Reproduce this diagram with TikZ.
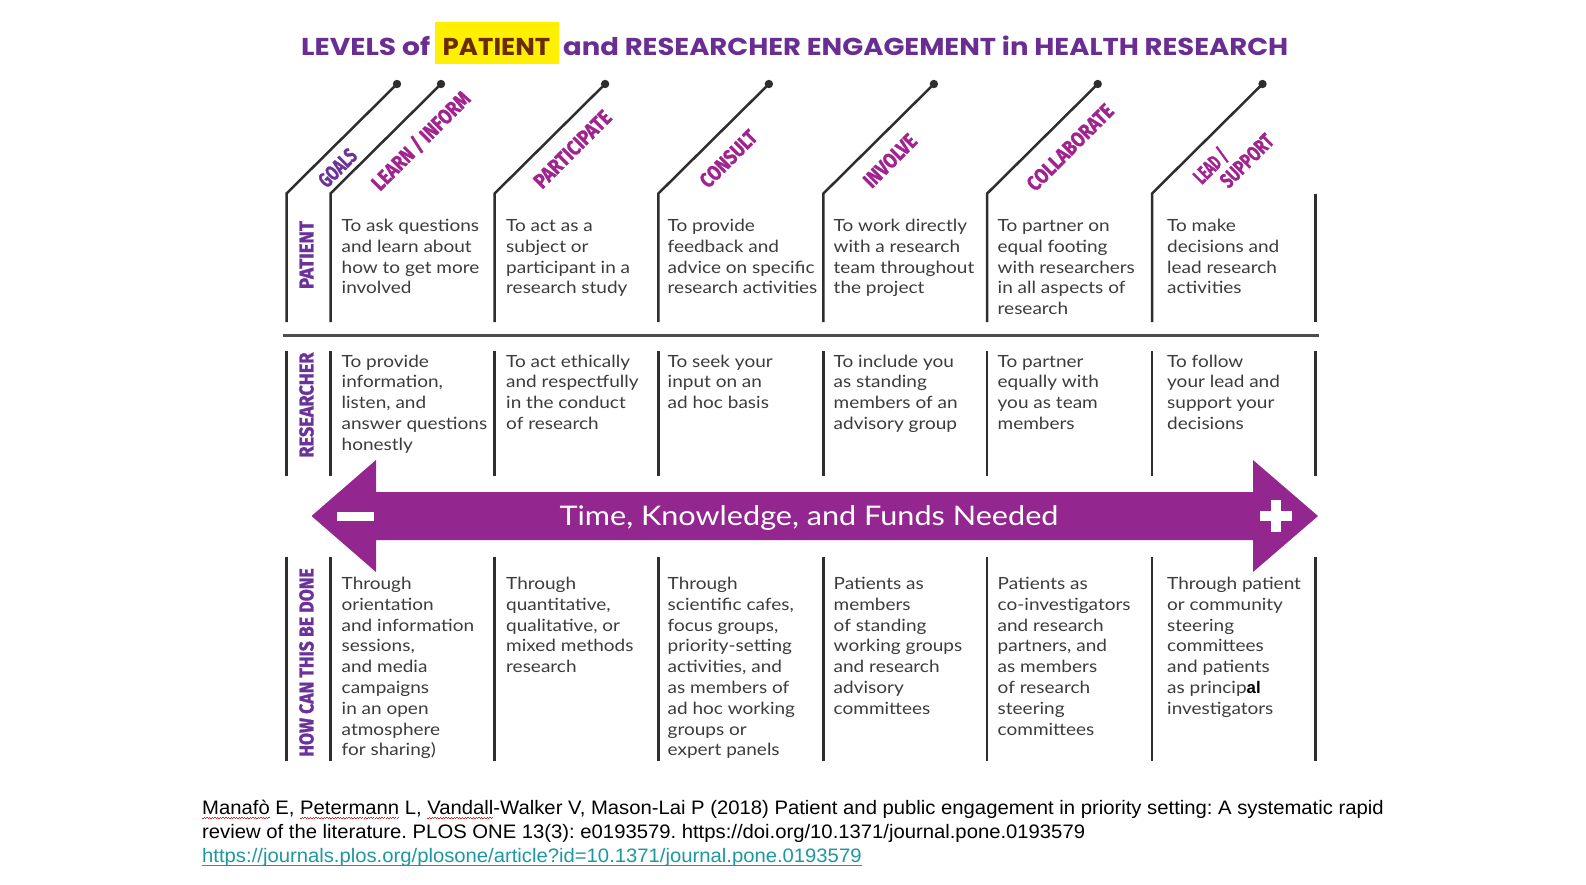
\documentclass[tikz,border=0pt]{standalone}
\usepackage{fontspec}
\usepackage{graphicx}
\setmainfont{Lato}[FakeStretch=1.13]
\newfontfamily\titlef{Poppins}
\newfontfamily\condf{Fira Sans}[BoldFeatures={FakeBold=1.4}]
\newfontfamily\arialf{Liberation Sans}
\frenchspacing
\definecolor{ttl}{HTML}{6A2D91}
\definecolor{vio}{HTML}{6B3399}
\definecolor{mag}{HTML}{A0238F}
\definecolor{arr}{HTML}{93278F}
\definecolor{txt}{HTML}{3C3C3C}
\definecolor{hl}{HTML}{FFF000}
\definecolor{hltxt}{HTML}{6A2B05}
\definecolor{lnk}{HTML}{1E98A0}
\definecolor{ln}{HTML}{2E2E2E}
\definecolor{sq}{HTML}{E02020}
\newcommand\cel[1]{\begin{tabular}[t]{@{}l@{}}#1\end{tabular}}
\newcommand\fitw[2]{\resizebox{#1}{\height}{#2}}
\newcommand\redwave[1]{\setbox0\hbox{#1}\rlap{\color{sq}\hbox to \wd0{\xleaders\hbox{\rule[-4.6pt]{1.3pt}{1pt}\rule[-3.6pt]{1.3pt}{1pt}}\hfil}}\box0\relax}
\newcommand\ulinkf[1]{\setbox0\hbox{#1}\rlap{\rule[-3.4pt]{\wd0}{1.3pt}}\box0\relax}
\tikzset{
  vline/.style={draw=ln, line width=2.5pt, line join=miter},
  hline/.style={draw=ln!85, line width=3pt},
  cell/.style={anchor=base west, inner sep=0pt, text=txt, font=\fontsize{16.8}{20.8}\selectfont},
  rowlab/.style={rotate=90, inner sep=0pt, text=vio, font=\condf\bfseries\fontsize{20}{20}\selectfont},
  collab/.style={rotate=45, inner sep=0pt, text=mag, font=\condf\bfseries\fontsize{21}{21}\selectfont},
  ttlseg/.style={anchor=base west, inner sep=0pt, text=ttl, font=\titlef\bfseries\fontsize{24.4}{26}\selectfont},
}
\begin{document}
\begin{tikzpicture}[x=1pt,y=-1pt]
\fill[white] (0,0) rectangle (1586,884);
\useasboundingbox (0,0) rectangle (1586,884);

% title
\fill[hl] (435,22) rectangle (559,64);
\node[ttlseg] (t1) at (301,55.5) {\fitw{129pt}{LEVELS of}};
\node[ttlseg, text=hltxt] (t2) at (442.5,55.5) {\fitw{107.5pt}{PATIENT}};
\node[ttlseg] (t3) at (563,55.5) {\fitw{725pt}{and RESEARCHER ENGAGEMENT in HEALTH RESEARCH}};

% column lines with diagonals
\foreach \x in {286.5,330.5,494.6,658.4,823.4,987.2,1152}{
  \draw[vline] (\x,322) -- (\x,193.5) -- (\x+110.5,84);
  \fill[ln] (\x+110.5,84) circle[radius=4.2pt];
  \draw[vline] (\x,351) -- (\x,476);
  \draw[vline] (\x,557) -- (\x,761);
}
\draw[vline] (1315.5,193.5) -- (1315.5,322);
\draw[vline] (1315.5,351) -- (1315.5,476);
\draw[vline] (1315.5,557) -- (1315.5,761);
\draw[hline] (283,335) -- (1319,335);

% column labels
\node[collab, text=vio] (lgoals) at (337.5,167.8) {\fitw{44.5pt}{GOALS}};
\node[collab] (llearn) at (420.7,140.7) {\fitw{129.3pt}{LEARN / INFORM}};
\node[collab] (lpart) at (572.5,149.2) {\fitw{100pt}{PARTICIPATE}};
\node[collab] (lcons) at (728.3,158.8) {\fitw{71.3pt}{CONSULT}};
\node[collab] (linv) at (890,160.7) {\fitw{65.7pt}{INVOLVE}};
\node[collab] (lcoll) at (1070,147.3) {\fitw{112.8pt}{COLLABORATE}};
\node[collab] (llead) at (1210.7,166) {\fitw{39.2pt}{LEAD /}};
\node[collab] (lsupp) at (1246.7,160.7) {\fitw{65.7pt}{SUPPORT}};

% row labels
\node[rowlab] (rpat) at (306.5,255) {\fitw{68pt}{PATIENT}};
\node[rowlab] (rres) at (306.5,405) {\fitw{105pt}{RESEARCHER}};
\node[rowlab] (rhow) at (306.5,662.5) {\fitw{188.5pt}{HOW CAN THIS BE DONE}};

% patient row
\node[cell] (p1) at (341.5,231.5) {\cel{To ask questions\\and learn about\\how to get more\\involved}};
\node[cell] (p2) at (506,231.5) {\cel{To act as a\\subject or\\participant in a\\research study}};
\node[cell] (p3) at (667.5,231.5) {\cel{To provide\\feedback and\\advice on specific\\research activities}};
\node[cell] (p4) at (833.5,231.5) {\cel{To work directly\\with a research\\team throughout\\the project}};
\node[cell] (p5) at (997.5,231.5) {\cel{To partner on\\equal footing\\with researchers\\in all aspects of\\research}};
\node[cell] (p6) at (1167,231.5) {\cel{To make\\decisions and\\lead research\\activities}};

% researcher row
\node[cell] (r1) at (341.5,367) {\cel{To provide\\information,\\listen, and\\answer questions\\honestly}};
\node[cell] (r2) at (506,367) {\cel{To act ethically\\and respectfully\\in the conduct\\of research}};
\node[cell] (r3) at (667.5,367) {\cel{To seek your\\input on an\\ad hoc basis}};
\node[cell] (r4) at (833.5,367) {\cel{To include you\\as standing\\members of an\\advisory group}};
\node[cell] (r5) at (997.5,367) {\cel{To partner\\equally with\\you as team\\members}};
\node[cell] (r6) at (1167,367) {\cel{To follow\\your lead and\\support your\\decisions}};

% arrow
\fill[arr] (311.5,516) -- (376,460) -- (376,492) -- (1253,492) -- (1253,460) -- (1318,516)
  -- (1253,572) -- (1253,540) -- (376,540) -- (376,572) -- cycle;
\fill[white] (337,512) rectangle (374,521);
\fill[white] (1260,511) rectangle (1292,521);
\fill[white] (1271,500) rectangle (1281,532);
\node[anchor=base, inner sep=0pt, text=white, font=\fontsize{27}{30}\selectfont] (atext) at (809,525) {\fitw{499pt}{Time, Knowledge, and Funds Needed}};

% how row
\node[cell] (h1) at (341.5,589.5) {\cel{Through\\orientation\\and information\\sessions,\\and media\\campaigns\\in an open\\atmosphere\\for sharing)}};
\node[cell] (h2) at (506,589.5) {\cel{Through\\quantitative,\\qualitative, or\\mixed methods\\research}};
\node[cell] (h3) at (667.5,589.5) {\cel{Through\\scientific cafes,\\focus groups,\\priority-setting\\activities, and\\as members of\\ad hoc working\\groups or\\expert panels}};
\node[cell] (h4) at (833.5,589.5) {\cel{Patients as\\members\\of standing\\working groups\\and research\\advisory\\committees}};
\node[cell] (h5) at (997.5,589.5) {\cel{Patients as\\co-investigators\\and research\\partners, and\\as members\\of research\\steering\\committees}};
\node[cell] (h6) at (1167,589.5) {\cel{Through patient\\or community\\steering\\committees\\and patients\\as princip{\arialf\bfseries\color{black}al}\\investigators}};

% citation
\node[anchor=base west, inner sep=0pt, text=black, font=\arialf\fontsize{19.5}{24.4}\selectfont] (cit) at (202,814)
 {\fitw{1181.5pt}{\cel{\redwave{Manafò} E, \redwave{Petermann} L, \redwave{Vandall}-Walker V, Mason-Lai P (2018) Patient and public engagement in priority setting: A systematic rapid\\review of the literature. PLOS ONE 13(3): e0193579. https://doi.org/10.1371/journal.pone.0193579\\{\color{lnk}\ulinkf{https://journals.plos.org/plosone/article?id=10.1371/journal.pone.0193579}}}}};
\end{tikzpicture}
\end{document}
